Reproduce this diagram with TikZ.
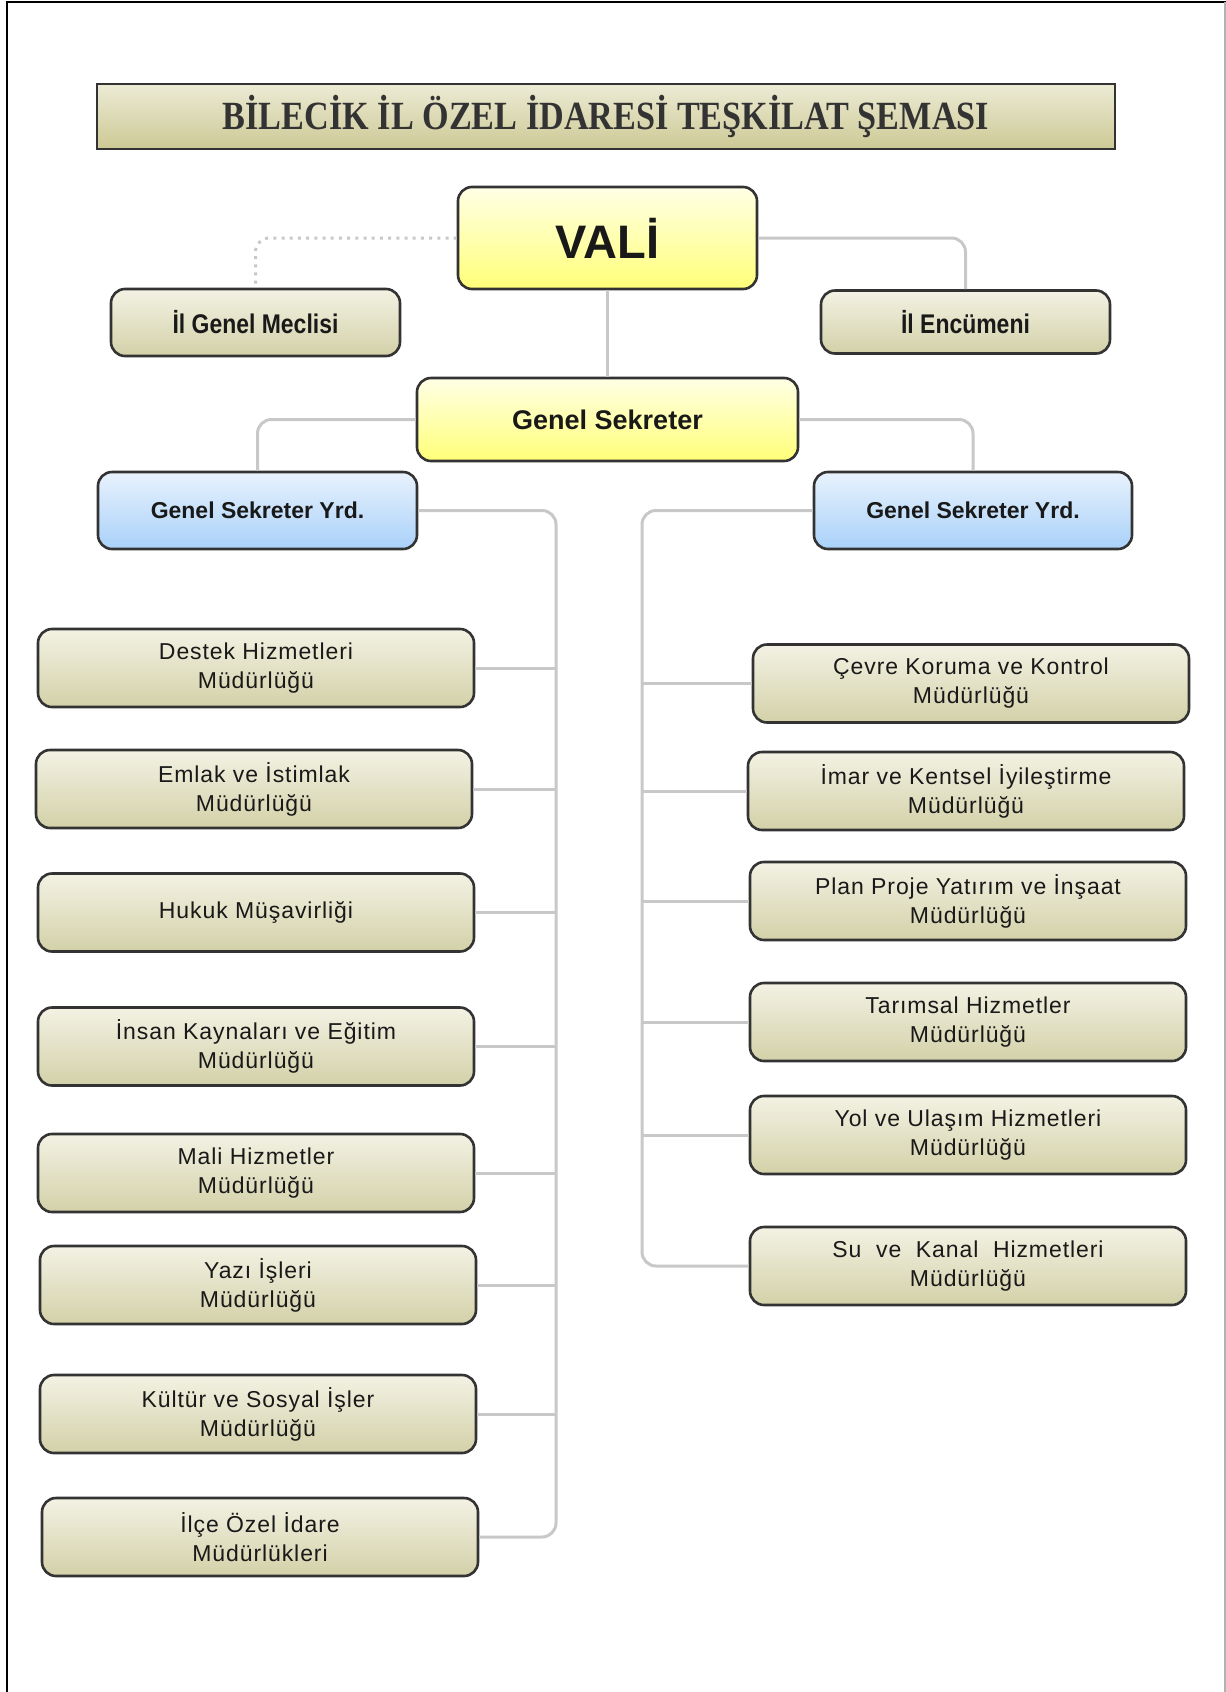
\documentclass[tikz,border=0pt]{standalone}
\usepackage{fontspec}
\usepackage{graphicx}
\setmainfont{Liberation Sans}
\newfontfamily\boxfont[LetterSpace=4]{Liberation Sans}
\newfontfamily\titlefont{Liberation Serif}
\definecolor{olivetop}{HTML}{F3F2E4}
\definecolor{olivebot}{HTML}{D3D1A8}
\definecolor{yeltop}{HTML}{FFFFE6}
\definecolor{yelbot}{HTML}{FFFF78}
\definecolor{bluetop}{HTML}{E8F2FD}
\definecolor{bluebot}{HTML}{A9D1F9}
\definecolor{titletop}{HTML}{ECEBD5}
\definecolor{titlebot}{HTML}{CDC995}
\definecolor{conncol}{HTML}{C8C8C8}
\definecolor{edgecol}{HTML}{333333}
\tikzset{
  base/.style={draw=edgecol, line width=1.3pt, rounded corners=7pt, inner sep=0pt, align=center, text=black!90},
  olivebox/.style={base, top color=olivetop, bottom color=olivebot},
  yelbox/.style={base, top color=yeltop, bottom color=yelbot},
  bluebox/.style={base, top color=bluetop, bottom color=bluebot},
  dept/.style={olivebox, minimum width=218pt, minimum height=39pt, font=\boxfont\fontsize{11.5}{14.5}\selectfont},
  titlebox/.style={draw=edgecol, line width=1.2pt, top color=titletop, bottom color=titlebot, inner sep=0pt, text=black!80},
  conn/.style={draw=conncol, line width=1.5pt, rounded corners=7pt},
  dotconn/.style={draw=conncol, line width=1.5pt, dash pattern=on 1.5pt off 2.6pt, rounded corners=7pt}
}
\begin{document}
\begin{tikzpicture}[x=0.5pt, y=-0.5pt]
\useasboundingbox (0,0) rectangle (1226,1692);
\fill[white] (0,0) rectangle (1226,1692);
% frame
\draw[black, line width=1pt] (7,1692) -- (7,2) -- (1226,2);
\draw[gray!60, line width=1pt] (1225,2) -- (1225,1692);

% title
\node[titlebox, minimum width=509pt, minimum height=32.5pt] (title) at (606,116.5)
  {\scalebox{0.855}[1]{\titlefont\bfseries\fontsize{20}{24}\selectfont BİLECİK İL ÖZEL İDARESİ TEŞKİLAT ŞEMASI}};

% top nodes
\node[yelbox, minimum width=149.5pt, minimum height=51pt, font=\bfseries\fontsize{23.5}{28}\selectfont] (vali) at (607.5,238) {VALİ};
\node[olivebox, minimum width=144.5pt, minimum height=33.5pt, font=\bfseries\fontsize{13.5}{16}\selectfont] (meclis) at (255.5,322.5) {\scalebox{0.85}[1]{İl Genel Meclisi}};
\node[olivebox, minimum width=144.5pt, minimum height=31.5pt, font=\bfseries\fontsize{13.5}{16}\selectfont] (encumen) at (965.5,322) {\scalebox{0.85}[1]{İl Encümeni}};
\node[yelbox, minimum width=190.5pt, minimum height=41.5pt, font=\bfseries\fontsize{13.5}{16}\selectfont] (gs) at (607.5,419.5) {Genel Sekreter};
\node[bluebox, minimum width=159.5pt, minimum height=38.5pt, font=\bfseries\fontsize{11.5}{14}\selectfont] (gsyl) at (257.5,510.5) {Genel Sekreter Yrd.};
\node[bluebox, minimum width=159pt, minimum height=38.5pt, font=\bfseries\fontsize{11.5}{14}\selectfont] (gsyr) at (973,510.5) {Genel Sekreter Yrd.};

% left column
\node[dept] (l1) at (256,668) {Destek Hizmetleri\\Müdürlüğü};
\node[dept] (l2) at (254,789) {Emlak ve İstimlak\\Müdürlüğü};
\node[dept] (l3) at (256,912.5) {Hukuk Müşavirliği};
\node[dept] (l4) at (256,1046.5) {İnsan Kaynaları ve Eğitim\\Müdürlüğü};
\node[dept] (l5) at (256,1173) {Mali Hizmetler\\Müdürlüğü};
\node[dept] (l6) at (258,1285) {Yazı İşleri\\Müdürlüğü};
\node[dept] (l7) at (258,1414) {Kültür ve Sosyal İşler\\Müdürlüğü};
\node[dept] (l8) at (260,1537) {İlçe Özel İdare\\Müdürlükleri};

% right column
\node[dept] (r1) at (971,683.5) {Çevre Koruma ve Kontrol\\Müdürlüğü};
\node[dept] (r2) at (966,791) {İmar ve Kentsel İyileştirme\\Müdürlüğü};
\node[dept] (r3) at (968,901) {Plan Proje Yatırım ve İnşaat\\Müdürlüğü};
\node[dept] (r4) at (968,1022) {Tarımsal Hizmetler\\Müdürlüğü};
\node[dept] (r5) at (968,1135) {Yol ve Ulaşım Hizmetleri\\Müdürlüğü};
\node[dept] (r6) at (968,1266) {Su\ \ ve\ \ Kanal\ \ Hizmetleri\\Müdürlüğü};

% trunk coordinates
\coordinate (lt) at (556,0);
\coordinate (rt) at (642,0);

% connectors
\draw[dotconn] (vali.west) -| (meclis.north);
\draw[conn] (vali.east) -| (encumen.north);
\draw[conn] (vali.south) -- (gs.north);
\draw[conn] (gs.west) -| (gsyl.north);
\draw[conn] (gs.east) -| (gsyr.north);
\draw[conn] (gsyl.east) -- (gsyl.east -| lt) -- (l8.east -| lt) -- (l8.east);
\draw[conn] (gsyr.west) -- (gsyr.west -| rt) -- (r6.west -| rt) -- (r6.west);
\foreach \n in {l1,l2,l3,l4,l5,l6,l7}{\draw[conn] (\n.east) -- (\n.east -| lt);}
\foreach \n in {r1,r2,r3,r4,r5}{\draw[conn] (\n.west) -- (\n.west -| rt);}
\end{tikzpicture}
\end{document}
